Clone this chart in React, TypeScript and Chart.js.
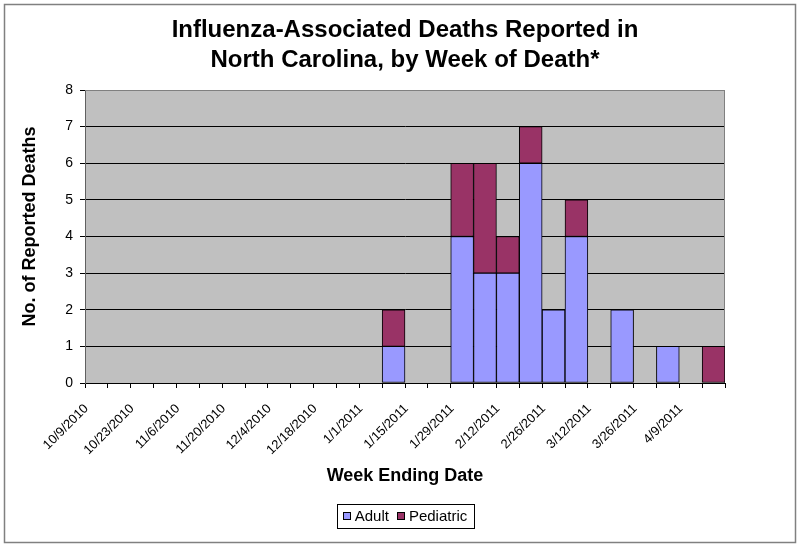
import { useEffect, useRef } from 'react';
import { Chart, registerables } from 'chart.js';

Chart.register(...registerables);

const FONT = "'Liberation Sans', Arial, sans-serif";

const weeks = [
  '10/9/2010', '10/16/2010', '10/23/2010', '10/30/2010', '11/6/2010', '11/13/2010',
  '11/20/2010', '11/27/2010', '12/4/2010', '12/11/2010', '12/18/2010', '12/25/2010',
  '1/1/2011', '1/8/2011', '1/15/2011', '1/22/2011', '1/29/2011', '2/5/2011',
  '2/12/2011', '2/19/2011', '2/26/2011', '3/5/2011', '3/12/2011', '3/19/2011',
  '3/26/2011', '4/2/2011', '4/9/2011', '4/16/2011',
];

const adultDeaths: (number | null)[] = [
  null, null, null, null, null, null, null, null, null, null, null, null,
  null, 1, null, null, 4, 3, 3, 6, 2, 4, null, 2, null, 1, null, 0,
];

const pediatricDeaths: (number | null)[] = [
  null, null, null, null, null, null, null, null, null, null, null, null,
  null, 1, null, null, 2, 3, 1, 1, null, 1, null, null, null, null, null, 1,
];

const titleLines = ['Influenza-Associated Deaths Reported in', 'North Carolina, by Week of Death*'];
const yAxisTitle = 'No. of Reported Deaths';
const xAxisTitle = 'Week Ending Date';
const yMin = 0;
const yMax = 8;
const yStep = 1;

const backgroundPlugin = {
  id: 'bgPlugin',
  beforeDraw(chart: any) {
    const { ctx, chartArea } = chart;
    ctx.save();
    ctx.fillStyle = '#ffffff';
    ctx.fillRect(0, 0, chart.width, chart.height);
    ctx.fillStyle = '#C0C0C0';
    ctx.fillRect(chartArea.left, chartArea.top, chartArea.right - chartArea.left, chartArea.bottom - chartArea.top);
    ctx.restore();
  },
  beforeDatasetsDraw(chart: any) {
    const { ctx, chartArea } = chart;
    ctx.save();
    ctx.strokeStyle = '#808080';
    ctx.lineWidth = 1;
    ctx.beginPath();
    ctx.moveTo(chartArea.left, chartArea.top + 0.5);
    ctx.lineTo(chartArea.right - 0.5, chartArea.top + 0.5);
    ctx.lineTo(chartArea.right - 0.5, chartArea.bottom);
    ctx.stroke();
    ctx.restore();
  },
  afterDraw(chart: any) {
    const { ctx, chartArea } = chart;
    ctx.save();
    // outer frame
    ctx.strokeStyle = '#808080';
    ctx.lineWidth = 1.5;
    ctx.strokeRect(4.5, 4.5, chart.width - 9, chart.height - 9);

    // y-axis title
    ctx.save();
    ctx.fillStyle = '#000';
    ctx.font = `bold 18px ${FONT}`;
    ctx.textAlign = 'center';
    ctx.textBaseline = 'middle';
    ctx.translate(30, (chartArea.top + chartArea.bottom) / 2 - 10);
    ctx.rotate(-Math.PI / 2);
    ctx.fillText(yAxisTitle, 0, 0);
    ctx.restore();

    // legend
    ctx.font = `15px ${FONT}`;
    ctx.textBaseline = 'middle';
    ctx.textAlign = 'left';
    const sw = 8;
    const gapText = 4;
    const gapItem = 8;
    const pad = 6;
    const items = chart.data.datasets.map((ds: any) => ({
      label: ds.label as string,
      color: ds.backgroundColor as string,
      w: ctx.measureText(ds.label).width,
    }));
    let total = 0;
    items.forEach((it: any, i: number) => {
      total += sw + gapText + it.w + (i > 0 ? gapItem : 0);
    });
    const cx = (chartArea.left + chartArea.right) / 2;
    const cy = chart.height - 31.5;
    let x = cx - total / 2;
    ctx.strokeStyle = '#000';
    ctx.lineWidth = 1;
    ctx.strokeRect(Math.round(x - pad) + 0.5, Math.round(cy - 12) + 0.5, Math.round(total + pad * 2), 24);
    items.forEach((it: any) => {
      ctx.fillStyle = it.color;
      ctx.fillRect(Math.round(x), Math.round(cy - sw / 2), sw, sw);
      ctx.strokeStyle = '#000';
      ctx.strokeRect(Math.round(x) + 0.5, Math.round(cy - sw / 2) + 0.5, sw - 1, sw - 1);
      ctx.fillStyle = '#000';
      ctx.fillText(it.label, x + sw + gapText, cy + 1);
      x += sw + gapText + it.w + gapItem;
    });
    ctx.restore();
  },
};

export default function App() {
  const canvasRef = useRef<HTMLCanvasElement | null>(null);

  useEffect(() => {
    if (!canvasRef.current) return;
    const chart = new Chart(canvasRef.current, {
      type: 'bar',
      data: {
        labels: weeks,
        datasets: [
          {
            label: 'Adult',
            data: adultDeaths,
            backgroundColor: '#9999FF',
            borderColor: '#000000',
            borderWidth: 1,
            borderSkipped: false,
            barPercentage: 1,
            categoryPercentage: 1,
          },
          {
            label: 'Pediatric',
            data: pediatricDeaths,
            backgroundColor: '#993366',
            borderColor: '#000000',
            borderWidth: 1,
            borderSkipped: false,
            barPercentage: 1,
            categoryPercentage: 1,
          },
        ],
      },
      options: {
        responsive: false,
        animation: false,
        events: [],
        layout: { padding: { left: 8, right: 75, top: 0, bottom: 0 } },
        plugins: {
          legend: { display: false },
          tooltip: { enabled: false },
          title: {
            display: true,
            text: titleLines,
            color: '#000',
            fullSize: false,
            font: { family: FONT, size: 24, weight: 'bold', lineHeight: 1.25 },
            padding: { top: 15, bottom: 15 },
          },
        },
        scales: {
          x: {
            stacked: true,
            afterFit: (scale: any) => {
              scale.height = 164;
            },
            grid: {
              display: true,
              drawOnChartArea: false,
              drawTicks: true,
              tickLength: 5,
              tickColor: '#000',
              offset: true,
            },
            border: { display: true, color: '#000', width: 1 },
            ticks: {
              autoSkip: false,
              maxRotation: 45,
              minRotation: 45,
              padding: 13,
              labelOffset: -10,
              color: '#000',
              font: { family: FONT, size: 13 },
              callback: (_v: any, i: number) => (i % 2 === 0 ? weeks[i] : ''),
            },
            title: {
              display: true,
              text: xAxisTitle,
              color: '#000',
              font: { family: FONT, size: 18, weight: 'bold', lineHeight: 1.2 },
              padding: { top: 0, bottom: 60 },
            },
          },
          y: {
            stacked: true,
            min: yMin,
            max: yMax,
            afterFit: (scale: any) => {
              scale.width = 77;
            },
            grid: {
              color: (c: any) => (c.tick && c.tick.value === yMax ? '#808080' : '#000'),
              lineWidth: 1,
              drawTicks: true,
              tickLength: 5,
              tickColor: '#000',
            },
            border: { display: true, color: '#606060', width: 1 },
            ticks: {
              stepSize: yStep,
              padding: 7,
              color: '#000',
              font: { family: FONT, size: 14 },
            },
            title: { display: false },
          },
        },
      },
      plugins: [backgroundPlugin],
    } as any);
    return () => chart.destroy();
  }, []);

  return (
    <div style={{ position: 'absolute', left: 0, top: 0, width: 800, height: 547, background: '#fff' }}>
      <canvas ref={canvasRef} width={800} height={547} style={{ width: 800, height: 547, display: 'block' }} />
    </div>
  );
}
